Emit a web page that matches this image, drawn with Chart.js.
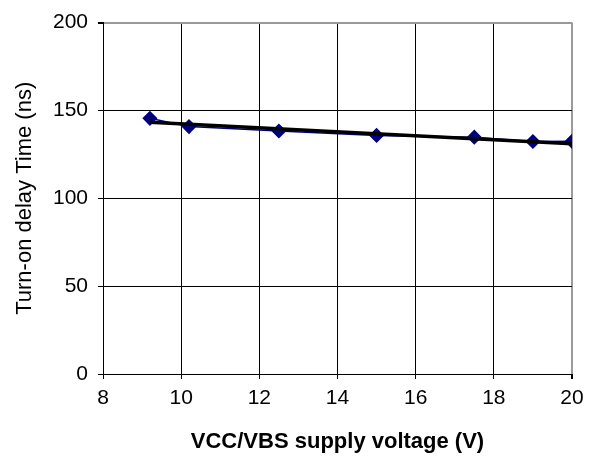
<!DOCTYPE html>
<html>
<head>
<meta charset="utf-8">
<script src="https://cdn.jsdelivr.net/npm/chart.js@4/dist/chart.umd.min.js"></script>
<style>
  html, body { margin: 0; padding: 0; background: #fff; }
  #wrap { width: 592px; height: 466px; }
</style>
</head>
<body>
<div id="wrap"><canvas id="delay-chart"></canvas></div>
<script>
// measured points
const voltages = [9.2, 10.2, 12.5, 15, 17.5, 19, 20];
const delayTimes = [145.5, 140.8, 138.3, 135.8, 134.8, 132.3, 132.4];

// linear trend line end points
const trendVoltages = [9.2, 20];
const trendTimes = [143.3, 131.1];

const xTicks = [8, 10, 12, 14, 16, 18, 20];
const yTicks = [0, 50, 100, 150, 200];

const toPoints = (xs, ys) => xs.map((x, i) => ({ x, y: ys[i] }));

const ctx = document.getElementById("delay-chart");

new Chart(ctx, {
    type: "scatter",
    data: {
        datasets: [
            {
                label: "measured",
                data: toPoints(voltages, delayTimes),
                showLine: true,
                borderColor: '#000080',
                backgroundColor: '#000080',
                borderWidth: 1.5,
                pointStyle: 'rectRot',
                pointRadius: 6.5,
                pointHoverRadius: 6.5,
                order: 2
            },
            {
                label: "trend",
                data: toPoints(trendVoltages, trendTimes),
                showLine: true,
                borderColor: '#000000',
                borderWidth: 3.5,
                pointRadius: 0,
                order: 1
            }
        ]
    },
    options: {
        responsive: true,
        maintainAspectRatio: false,
        animation: false,
        layout: {
            padding: { left: 0, right: 20, top: 16, bottom: 0 }
        },
        scales: {
            x: {
                type: 'linear',
                min: 8,
                max: 20,
                afterBuildTicks: (scale) => {
                    scale.ticks = xTicks.map((v) => ({ value: v }));
                },
                afterFit: (scale) => {
                    scale.height = 92;
                },
                ticks: {
                    color: '#000',
                    padding: 7,
                    maxRotation: 0,
                    font: { family: 'Liberation Sans, Arial, sans-serif', size: 21 }
                },
                grid: {
                    color: (c) => c.tick && c.tick.value === 20 ? '#9a9a9a' : '#000',
                    lineWidth: (c) => c.tick && c.tick.value === 20 ? 2 : 1,
                    tickColor: '#000',
                    tickLength: 5
                },
                border: { color: '#000', width: 1 },
                title: {
                    display: true,
                    text: 'VCC/VBS supply voltage (V)',
                    color: '#000',
                    padding: { top: 0, bottom: 11 },
                    font: { family: 'Liberation Sans, Arial, sans-serif', size: 22, weight: 'bold' }
                }
            },
            y: {
                min: 0,
                max: 200,
                afterBuildTicks: (scale) => {
                    scale.ticks = yTicks.map((v) => ({ value: v }));
                },
                afterFit: (scale) => {
                    scale.width = 103;
                },
                ticks: {
                    color: '#000',
                    padding: 10,
                    font: { family: 'Liberation Sans, Arial, sans-serif', size: 21 }
                },
                grid: {
                    color: (c) => c.tick && c.tick.value === 200 ? '#9a9a9a' : '#000',
                    lineWidth: (c) => c.tick && c.tick.value === 200 ? 2 : 1,
                    tickColor: '#000',
                    tickLength: 5
                },
                border: { color: '#000', width: 1 },
                title: {
                    display: true,
                    text: 'Turn-on delay Time (ns)',
                    color: '#000',
                    padding: { top: 12, bottom: 0 },
                    font: { family: 'Liberation Sans, Arial, sans-serif', size: 22 }
                }
            }
        },
        plugins: {
            legend: { display: false },
            tooltip: { enabled: false }
        }
    }
});
</script>
</body>
</html>
